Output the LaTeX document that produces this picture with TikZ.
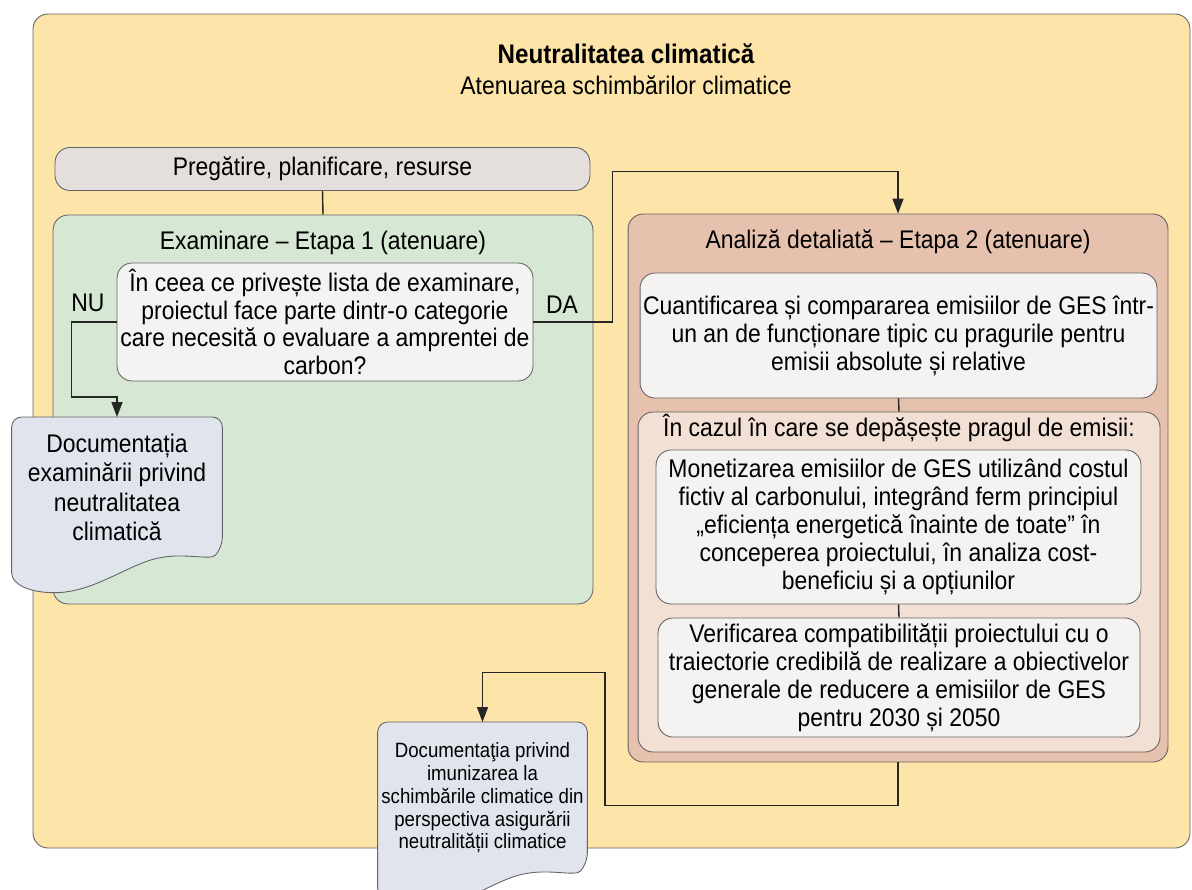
\documentclass[tikz,border=0pt]{standalone}
\usepackage{fontspec}
\setmainfont{Liberation Sans}[FakeStretch=0.9]
\usetikzlibrary{arrows.meta,calc}

\definecolor{outerfill}{RGB}{253,228,168}
\definecolor{prepfill}{RGB}{228,223,220}
\definecolor{screenfill}{RGB}{214,232,212}
\definecolor{whitefill}{RGB}{244,243,241}
\definecolor{docfill}{RGB}{224,228,236}
\definecolor{detailfill}{RGB}{230,194,174}
\definecolor{exceedfill}{RGB}{242,224,212}
\definecolor{boxline}{RGB}{100,100,100}

% document shape with a wavy bottom, drawn round an empty node
\newcommand\wavydoc[1]{%
  \filldraw[fill=docfill, draw=boxline, line width=0.5pt]
    ($(#1.south west)+(0,25)$) [rounded corners=0.2cm] -- (#1.north west)
    -- (#1.north east) -- (#1.south east) [sharp corners]
    .. controls +(-12,13) and +(25,-5) .. ($(#1.south east)+(-62,10)$)
    .. controls +(-30,5) and +(40,0) .. ($(#1.south west)+(43,45)$)
    .. controls +(-25,0) and +(0,12) .. ($(#1.south west)+(0,25)$) -- cycle;}

\begin{document}
\begin{tikzpicture}[x=0.02cm, y=-0.02cm,
    box/.style={draw=boxline, line width=0.5pt, rounded corners=0.3cm, inner sep=0pt, align=center},
    txt/.style={font=\fontsize{14.5}{15.9}\selectfont, align=center},
    conn/.style={draw=black!85, line width=0.8pt},
    arr/.style={conn, -{Triangle[length=0.3cm,width=0.22cm]}}]
    \useasboundingbox (0,0) rectangle (1192,889);
    \draw[fill=outerfill, draw=boxline, line width=0.5pt, rounded corners=0.3cm] (33,14) rectangle (1190,848);
    \node[txt, font=\fontsize{15.3}{16}\selectfont\bfseries] (title) at (626,54) {Neutralitatea climatică};
    \node[txt] (subtitle) at (626,85) {Atenuarea schimbărilor climatice};

    % etapa 1
    \node[box, txt, fill=prepfill, minimum width=10.7cm, minimum height=0.86cm] (prep) at (322.5,169) {Pregătire, planificare, resurse};
    \node[box, fill=screenfill, minimum width=10.8cm, minimum height=7.78cm] (screen) at (323,409.5) {};
    \node[txt] (screentitle) at (323,243) {Examinare – Etapa 1 (atenuare)};
    \node[box, txt, fill=whitefill, minimum width=8.32cm, minimum height=2.36cm] (question) at (325,322)
        {În ceea ce privește lista de examinare,\\ proiectul face parte dintr-o categorie\\ care necesită o evaluare a amprentei de\\ carbon?};
    \node[txt] (nu) at (88,303) {NU};
    \node[txt] (da) at (562,305) {DA};

    % etapa 2
    \node[box, fill=detailfill, minimum width=10.8cm, minimum height=10.96cm] (detail) at (898,488) {};
    \node[txt] (detailtitle) at (898,242) {Analiză detaliată – Etapa 2 (atenuare)};
    \node[box, txt, fill=whitefill, minimum width=10.34cm, minimum height=2.5cm] (quant) at (898.5,335.5)
        {Cuantificarea și compararea emisiilor de GES într-\\ un an de funcționare tipic cu pragurile pentru\\ emisii absolute și relative};
    \node[box, fill=exceedfill, minimum width=10.44cm, minimum height=6.8cm] (exceed) at (899,582) {};
    \node[txt] (exceedtitle) at (899,428) {În cazul în care se depășește pragul de emisii:};
    \node[box, txt, fill=whitefill, minimum width=9.7cm, minimum height=3.08cm] (monet) at (898.5,527)
        {Monetizarea emisiilor de GES utilizând costul\\ fictiv al carbonului, integrând ferm principiul\\ „eficiența energetică înainte de toate” în\\ conceperea proiectului, în analiza cost-\\ beneficiu și a opțiunilor};
    \node[box, txt, fill=whitefill, minimum width=9.64cm, minimum height=2.38cm] (verif) at (899,677.5)
        {Verificarea compatibilității proiectului cu o\\ traiectorie credibilă de realizare a obiectivelor\\ generale de reducere a emisiilor de GES\\ pentru 2030 și 2050};

    % legaturi
    \draw[conn] (prep.south) -- (screen.north);
    \draw[conn] (quant.south) -- (exceed.north);
    \draw[conn] (monet.south) -- (verif.north);
    \draw[arr] (question.east) -- ++(79,0) |- ($(detail.north)+(0,-42)$) -- (detail.north);

    % documente
    \node[minimum width=4.2cm, minimum height=2.6cm, anchor=north] (doc1) at (117,417) {};
    \wavydoc{doc1}
    \node[txt, font=\fontsize{14.5}{16.8}\selectfont] (doc1text) at ($(doc1)+(0,5)$) {Documentația\\ examinării privind\\ neutralitatea\\ climatică};
    \draw[arr] (question.west) -- ++(-45,0) |- ($(doc1.north)+(0,-20)$) -- (doc1.north);

    \node[minimum width=4.18cm, minimum height=2.82cm, anchor=north] (doc2) at (482.5,722) {};
    \wavydoc{doc2}
    \node[txt, font=\fontsize{11.8}{13}\selectfont] (doc2text) at ($(doc2)+(0,5)$)
        {Documentaţia privind\\ imunizarea la\\ schimbările climatice din\\ perspectiva asigurării\\ neutralității climatice};
    \draw[arr] (detail.south) -- ++(0,43) -- ++(-293,0) -- ++(0,-133) -| (doc2.north);
\end{tikzpicture}
\end{document}
